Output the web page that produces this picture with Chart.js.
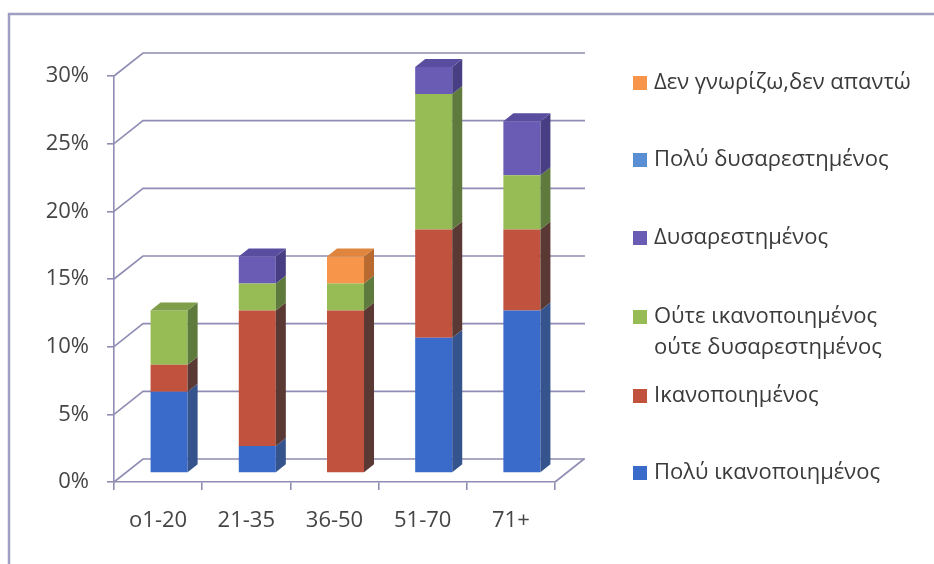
<!DOCTYPE html>
<html>
<head>
<meta charset="utf-8">
<script src="https://cdn.jsdelivr.net/npm/chart.js@4"></script>
<style>
  html, body { margin: 0; padding: 0; background: #fff; }
  #wrap { width: 934px; height: 564px; position: relative; }
</style>
</head>
<body>
<div id="wrap"><canvas id="barChart" width="934" height="564"></canvas></div>
<script>
// age groups and satisfaction shares (%)
const ageGroups = ['o1-20', '21-35', '36-50', '51-70', '71+'];
const veryPleased = [6, 2, 0, 10, 12];
const pleased = [2, 10, 12, 8, 6];
const neutral = [4, 2, 2, 10, 4];
const displeased = [0, 2, 0, 2, 4];
const veryDispleased = [0, 0, 0, 0, 0];
const dontKnow = [0, 0, 2, 0, 0];
const yTicks = [0, 5, 10, 15, 20, 25, 30];

const seriesNames = [
  'Πολύ ικανοποιημένος',
  'Ικανοποιημένος',
  ['Ούτε ικανοποιημένος', 'ούτε δυσαρεστημένος'],
  'Δυσαρεστημένος',
  'Πολύ δυσαρεστημένος',
  'Δεν γνωρίζω,δεν απαντώ'
];
const seriesValues = [veryPleased, pleased, neutral, displeased, veryDispleased, dontKnow];

// front / side / top face colours
const faceColors = ['#3a6bcb', '#c0523e', '#97bc55', '#6a5bb4', '#5a8fd4', '#f7964a'];
const sideColors = ['#35548d', '#5a3934', '#5e7a3d', '#473e84', '#3f6aa0', '#b86a30'];
const topColors = ['#4670bd', '#a04739', '#7f9e4a', '#594da0', '#4f80c0', '#e0853e'];

const FONT = '"Open Sans", "DejaVu Sans", sans-serif';
const lineColor = '#8f8db3';

// projection offsets for the pseudo 3D look
const WALL = { dx: 29, dy: -23 };
const BAR_SHIFT = { dx: 11, dy: -9 };
const BAR_DEPTH = { dx: 10, dy: -8 };

// legend rows, top to bottom (last dataset first)
const legendRows = [83, 160, 238, 317, 396, 473];

function poly(ctx, pts, fill) {
  ctx.beginPath();
  ctx.moveTo(pts[0][0], pts[0][1]);
  for (let i = 1; i < pts.length; i++) ctx.lineTo(pts[i][0], pts[i][1]);
  ctx.closePath();
  ctx.fillStyle = fill;
  ctx.fill();
}

const depth3d = {
  id: 'depth3d',
  beforeDraw(chart) {
    const ctx = chart.ctx;
    ctx.save();
    ctx.strokeStyle = '#a09ec2';
    ctx.lineWidth = 2.5;
    ctx.beginPath();
    ctx.moveTo(9, 564);
    ctx.lineTo(9, 14);
    ctx.lineTo(934, 14);
    ctx.stroke();
    ctx.restore();
  },
  beforeDatasetsDraw(chart) {
    const ctx = chart.ctx;
    const area = chart.chartArea;
    const y = chart.scales.y;
    ctx.save();
    ctx.strokeStyle = lineColor;
    ctx.lineWidth = 1.6;
    // side wall diagonals + back wall gridlines
    yTicks.forEach(v => {
      const py = y.getPixelForValue(v);
      ctx.beginPath();
      ctx.moveTo(area.left, py);
      ctx.lineTo(area.left + WALL.dx, py + WALL.dy);
      ctx.lineTo(area.right + WALL.dx + 1, py + WALL.dy);
      ctx.stroke();
    });
    // right edge of the floor
    const p0 = y.getPixelForValue(0);
    ctx.beginPath();
    ctx.moveTo(area.right, p0);
    ctx.lineTo(area.right + WALL.dx, p0 + WALL.dy);
    ctx.stroke();
    ctx.restore();

    // bars sit a little behind the front axis plane
    ctx.save();
    ctx.translate(BAR_SHIFT.dx, BAR_SHIFT.dy);
  },
  afterDatasetsDraw(chart) {
    const ctx = chart.ctx;
    ctx.restore();

    const n = ageGroups.length;
    const topIdx = new Array(n).fill(-1);
    chart.data.datasets.forEach((ds, di) => {
      ds.data.forEach((v, i) => { if (v > 0) topIdx[i] = di; });
    });

    chart.data.datasets.forEach((ds, di) => {
      const meta = chart.getDatasetMeta(di);
      meta.data.forEach((bar, i) => {
        if (!ds.data[i]) return;
        const w = bar.width;
        const l = bar.x - w / 2 + BAR_SHIFT.dx;
        const r = bar.x + w / 2 + BAR_SHIFT.dx;
        const t = bar.y + BAR_SHIFT.dy;
        const b = bar.base + BAR_SHIFT.dy;
        poly(ctx, [[r, t], [r + BAR_DEPTH.dx, t + BAR_DEPTH.dy],
                   [r + BAR_DEPTH.dx, b + BAR_DEPTH.dy], [r, b]], sideColors[di]);
        if (topIdx[i] === di) {
          poly(ctx, [[l, t], [l + BAR_DEPTH.dx, t + BAR_DEPTH.dy],
                     [r + BAR_DEPTH.dx, t + BAR_DEPTH.dy], [r, t]], topColors[di]);
        }
      });
    });

    // legend, reversed like a stacked chart legend
    ctx.save();
    ctx.font = '22px ' + FONT;
    ctx.textBaseline = 'middle';
    ctx.textAlign = 'left';
    const order = chart.data.datasets.map((d, i) => i).reverse();
    order.forEach((di, row) => {
      const cy = legendRows[row];
      ctx.fillStyle = faceColors[di];
      ctx.fillRect(633, cy - 7, 14, 14);
      ctx.fillStyle = '#3a3a3a';
      const name = seriesNames[di];
      const lines = Array.isArray(name) ? name : [name];
      lines.forEach((txt, k) => ctx.fillText(txt, 654, cy + k * 31));
    });
    ctx.restore();
  }
};

const datasets = seriesValues.map((vals, i) => ({
  label: Array.isArray(seriesNames[i]) ? seriesNames[i].join(' ') : seriesNames[i],
  data: vals,
  backgroundColor: faceColors[i],
  borderWidth: 0,
  clip: false
}));

new Chart(document.getElementById('barChart').getContext('2d'), {
  type: 'bar',
  data: { labels: ageGroups, datasets: datasets },
  options: {
    responsive: false,
    animation: false,
    events: [],
    layout: { padding: { left: 0, top: 76, right: 379, bottom: 0 } },
    datasets: { bar: { categoryPercentage: 1, barPercentage: 0.42 } },
    plugins: { legend: { display: false }, tooltip: { enabled: false } },
    scales: {
      x: {
        stacked: true,
        afterFit: s => { s.height = 82; },
        grid: { drawOnChartArea: false, tickLength: 8, color: lineColor, lineWidth: 1.6, offset: true },
        border: { color: lineColor, width: 1.6 },
        ticks: { color: '#454545', padding: 18, font: { family: FONT, size: 22 } }
      },
      y: {
        stacked: true,
        min: 0,
        max: 30,
        afterFit: s => { s.width = 114; },
        afterBuildTicks: s => { s.ticks = yTicks.map(v => ({ value: v })); },
        grid: { drawOnChartArea: false, tickLength: 7, color: lineColor, lineWidth: 1.6 },
        border: { color: lineColor, width: 1.6 },
        ticks: { color: '#454545', padding: 18, font: { family: FONT, size: 22 },
                 callback: v => v + '%' }
      }
    }
  },
  plugins: [depth3d]
});
</script>
</body>
</html>
